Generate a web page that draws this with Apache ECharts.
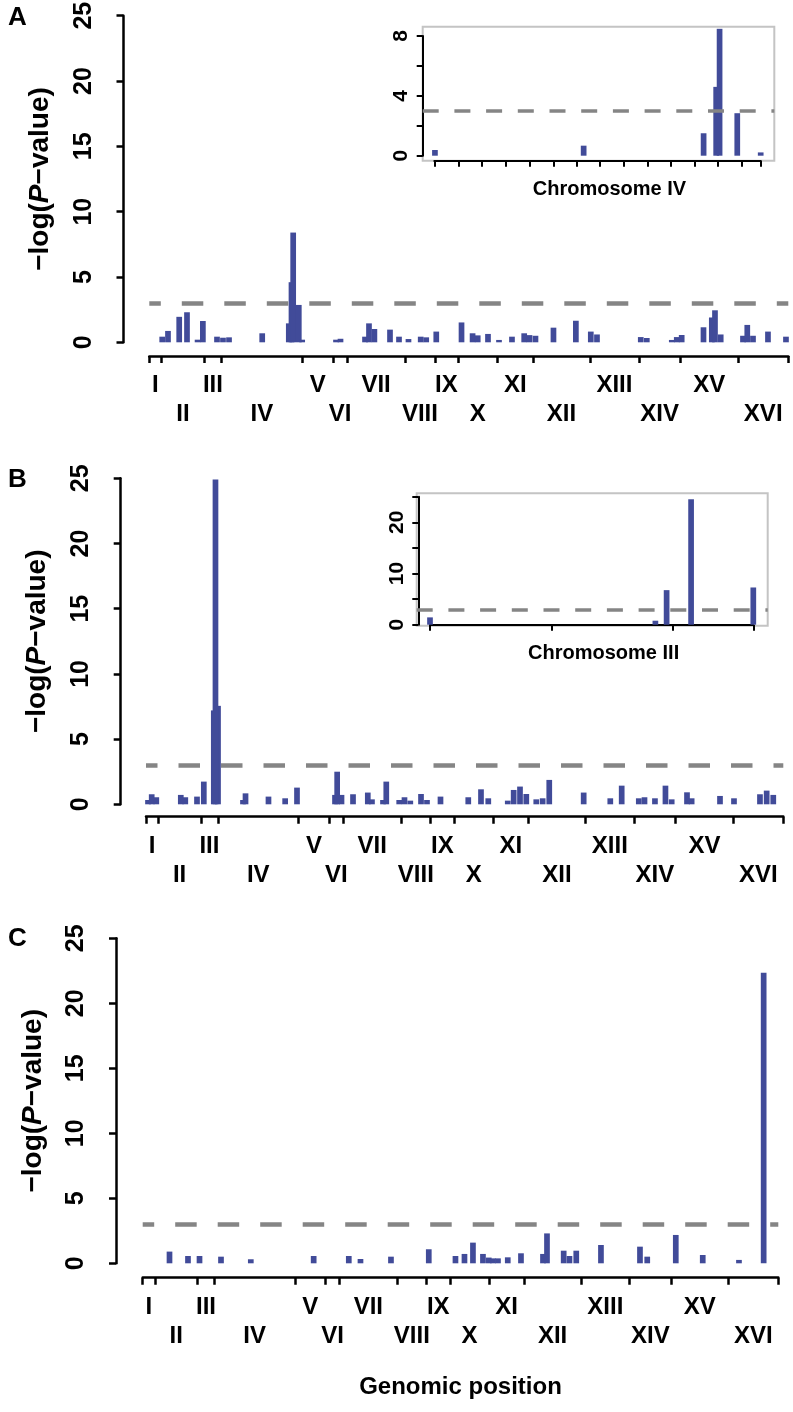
<!DOCTYPE html>
<html><head><meta charset="utf-8">
<script src="https://cdn.jsdelivr.net/npm/echarts@6/dist/echarts.min.js"></script>
<style>html,body{margin:0;padding:0;background:#fff}#chart{width:793px;height:1412px}</style>
</head><body><div id="chart"></div>
<script>
// ---------------- DATA ----------------
const chromNames = ['I','II','III','IV','V','VI','VII','VIII','IX','X','XI','XII','XIII','XIV','XV','XVI'];
const chromLengthsKb = [230, 813, 317, 1532, 577, 270, 1091, 563, 440, 746, 667, 1078, 924, 784, 1091, 948];
const threshold = 3;
const mainYMax = 25;

// Panel A : genomic position (kb, cumulative) and -log(P)
const posA = [244,353,565,712,912,1012,1279,1392,1506,2133,2635,2686,2718,2824,2888,3527,3612,4075,4150,4252,4547,4717,4896,5127,5231,5421,5898,6107,6204,6398,6606,6851,7082,7182,7295,7635,8058,8340,8457,9284,9398,9870,9964,10057,10469,10626,10686,10794,11215,11296,11404,11687,12027];
const valA = [0.43,0.87,1.95,2.3,0.2,1.63,0.43,0.35,0.38,0.69,1.45,4.6,8.4,2.86,0.2,0.2,0.27,0.43,1.45,1.02,0.97,0.43,0.25,0.43,0.38,0.82,1.52,0.69,0.53,0.64,0.18,0.43,0.69,0.55,0.5,1.12,1.65,0.82,0.6,0.4,0.33,0.18,0.4,0.56,1.15,1.9,2.45,0.6,0.5,1.33,0.5,0.82,0.43];

// Panel B
const posB = [38,108,195,659,744,966,1095,1284,1364,1316,1837,1885,2320,2636,2860,3580,3621,3703,3921,4201,4280,4489,4551,4796,4896,5006,5209,5322,5578,6104,6345,6483,6852,6964,7084,7203,7392,7513,7638,8290,8794,9010,9334,9442,9640,9839,9957,10247,10335,10872,11137,11629,11756,11881];
const valB = [0.33,0.77,0.54,0.72,0.54,0.59,1.74,7.2,7.55,24.9,0.33,0.84,0.59,0.46,1.28,0.72,2.5,0.72,0.77,0.9,0.38,0.33,1.74,0.33,0.54,0.28,0.79,0.33,0.59,0.54,1.15,0.46,0.28,1.1,1.36,0.79,0.38,0.46,1.87,0.9,0.46,1.43,0.46,0.54,0.46,1.43,0.38,0.92,0.46,0.64,0.46,0.77,1.05,0.72];

// Panel C
const posC = [509,860,1079,1487,2053,3247,3914,4136,4715,5433,5940,6111,6272,6462,6572,6652,6747,6933,7184,7602,7678,7995,8105,8234,8703,9444,9582,10124,10636,11324,11793];
const valC = [0.9,0.56,0.56,0.51,0.31,0.56,0.56,0.33,0.51,1.08,0.56,0.72,1.59,0.72,0.44,0.38,0.38,0.46,0.77,0.72,2.3,0.97,0.56,0.97,1.41,1.28,0.51,2.18,0.64,0.26,22.35];

// Inset A : chromosome IV (kb within chromosome)
const insetAPos = [3,701,1264,1323,1339,1422,1532];
const insetAVal = [0.38,0.67,1.5,4.6,8.48,2.84,0.22];
const insetATicks = [0,113,222,335,446,559,668,778,888,1001,1112,1222,1331,1441,1532];
const insetAYMax = 8;

// Inset B : chromosome III
const insetBPos = [0,221,232,256,317];
const insetBVal = [1.43,0.78,6.75,24.5,7.27];
const insetBTicks = [0,119,238,317];
const insetBYMax = 25;

// ---------------- STYLE / LAYOUT ----------------
const FONT = '"Liberation Sans", Arial, Helvetica, sans-serif';
const BAR = '#414b99';
const DASH = '#858585';

const chromStarts = [];
let acc = 0;
chromLengthsKb.forEach(l => { chromStarts.push(acc); acc += l; });
const genomeLen = acc;
const boundaries = [0].concat(chromStarts.map((s, i) => s + chromLengthsKb[i]));
const centers = chromStarts.map((s, i) => s + chromLengthsKb[i] / 2);

const grids = [], xAxes = [], yAxes = [], series = [];
function addGrid(g) {
  grids.push(Object.assign({ containLabel: false, outerBoundsMode: 'none' }, g));
  return grids.length - 1;
}
function pairs(p, v) { return p.map((x, i) => [x, v[i]]); }
const txt = (size) => ({ fontSize: size, fontWeight: 'bold', fontFamily: FONT, color: '#000' });

function mainPanel(L, pos, val, xName) {
  const gi = addGrid({ left: L.left, top: L.top, width: L.width, height: L.height });
  xAxes.push({
    type: 'value', gridIndex: gi, min: 0, max: genomeLen, offset: L.xOff,
    axisLine: { show: true, onZero: false, lineStyle: { color: '#000', width: 2.5 } },
    axisTick: { show: true, customValues: boundaries, length: 7, lineStyle: { color: '#000', width: 2.5 } },
    axisLabel: Object.assign(txt(24), {
      show: true, customValues: centers, margin: 15, lineHeight: 29,
      formatter: v => {
        const i = centers.findIndex(c => Math.abs(c - v) < 0.01);
        if (i < 0) return '';
        return i % 2 === 0 ? chromNames[i] : '\n' + chromNames[i];
      }
    }),
    splitLine: { show: false },
    name: xName || '', nameLocation: 'middle', nameGap: 98, nameTextStyle: txt(24)
  });
  const xi = xAxes.length - 1;
  yAxes.push({
    type: 'value', gridIndex: gi, min: 0, max: mainYMax, interval: 5, offset: L.yOff,
    axisLine: { show: true, onZero: false, lineStyle: { color: '#000', width: 2.5 } },
    axisTick: { show: true, length: 7, lineStyle: { color: '#000', width: 2.5 } },
    axisLabel: Object.assign(txt(25), { rotate: 90, margin: 27 }),
    splitLine: { show: false },
    name: '−log({i|P}−value)', nameLocation: 'middle', nameRotate: 90, nameGap: 69,
    nameTextStyle: Object.assign(txt(28), { rich: { i: Object.assign(txt(28), { fontStyle: 'italic' }) } })
  });
  const yi = yAxes.length - 1;
  series.push({
    type: 'line', xAxisIndex: xi, yAxisIndex: yi, data: [], z: 1, silent: true,
    markLine: { silent: true, symbol: 'none', label: { show: false },
      lineStyle: { type: [21.5, 21], dashOffset: 10, color: DASH, width: 4.5, cap: 'butt' },
      data: [{ yAxis: threshold }] }
  });
  series.push({
    type: 'bar', xAxisIndex: xi, yAxisIndex: yi, data: pairs(pos, val), barWidth: 5.7,
    z: 3, clip: false, silent: true, itemStyle: { color: BAR }
  });
}

function insetPanel(B, D, pos, val, ticks, xMax, yMax, yInterval, labelEvery, name) {
  const bi = addGrid({ left: B.left, top: B.top, width: B.width, height: B.height, show: true,
    borderColor: '#c4c4c4', borderWidth: 2, backgroundColor: 'rgba(0,0,0,0)' });
  xAxes.push({ type: 'value', gridIndex: bi, min: 0, max: 1, show: false });
  yAxes.push({ type: 'value', gridIndex: bi, min: B.yMin, max: B.yMax, show: false });
  series.push({
    type: 'line', xAxisIndex: xAxes.length - 1, yAxisIndex: yAxes.length - 1, data: [], z: 1, silent: true,
    markLine: { silent: true, symbol: 'none', label: { show: false },
      lineStyle: { type: [16, 15.7], dashOffset: 0, color: DASH, width: 3.5, cap: 'butt' },
      data: [{ yAxis: threshold }] }
  });
  const gi = addGrid({ left: D.left, top: D.top, width: D.width, height: D.height });
  xAxes.push({
    type: 'value', gridIndex: gi, min: 0, max: xMax, offset: D.xOff,
    axisLine: { show: true, onZero: false, lineStyle: { color: '#000', width: 2 } },
    axisTick: { show: true, customValues: ticks, length: 6, lineStyle: { color: '#000', width: 2 } },
    axisLabel: { show: false },
    splitLine: { show: false },
    name: name, nameLocation: 'middle', nameGap: 19,
    nameTextStyle: Object.assign(txt(20), { padding: [0, 0, 0, 24] })
  });
  const xi = xAxes.length - 1;
  yAxes.push({
    type: 'value', gridIndex: gi, min: 0, max: yMax, interval: yInterval, offset: D.yOff,
    axisLine: { show: true, onZero: false, lineStyle: { color: '#000', width: 2 } },
    axisTick: { show: true, length: 6, lineStyle: { color: '#000', width: 2 } },
    axisLabel: Object.assign(txt(21), { rotate: 90, margin: 11,
      formatter: v => (Math.abs(v % labelEvery) < 1e-9 ? String(v) : '') }),
    splitLine: { show: false }
  });
  const yi = yAxes.length - 1;
  series.push({
    type: 'bar', xAxisIndex: xi, yAxisIndex: yi, data: pairs(pos, val), barWidth: 5.7,
    z: 3, clip: false, silent: true, itemStyle: { color: BAR }
  });
}

mainPanel({ left: 149.3, width: 639, top: 15.7, height: 326.6, yOff: 25.8, xOff: 13.7 }, posA, valA, '');
insetPanel({ left: 422.7, top: 26.7, width: 351.6, height: 134, yMin: -0.334, yMax: 8.62 },
           { left: 434.3, top: 36, width: 326.4, height: 119.7, xOff: 5, yOff: 11.6 },
           insetAPos, insetAVal, insetATicks, chromLengthsKb[3], insetAYMax, 2, 4, 'Chromosome IV');
mainPanel({ left: 146, width: 637.3, top: 478.3, height: 326, yOff: 25.3, xOff: 12.4 }, posB, valB, '');
insetPanel({ left: 416.7, top: 493.3, width: 351, height: 132.4, yMin: -0.2, yMax: 25.66 },
           { left: 430, top: 496.7, width: 323.3, height: 128, xOff: 0, yOff: 11.7 },
           insetBPos, insetBVal, insetBTicks, chromLengthsKb[2], insetBYMax, 5, 10, 'Chromosome III');
mainPanel({ left: 142.7, width: 635.6, top: 938.3, height: 325, yOff: 26.7, xOff: 14.4 }, posC, valC, 'Genomic position');

const chart = echarts.init(document.getElementById('chart'), null, { renderer: 'canvas' });
chart.setOption({
  animation: false,
  backgroundColor: '#fff',
  title: [
    { text: 'A', left: 3, top: 0, textStyle: txt(26) },
    { text: 'B', left: 3, top: 462, textStyle: txt(26) },
    { text: 'C', left: 3, top: 921, textStyle: txt(26) }
  ],
  grid: grids,
  xAxis: xAxes,
  yAxis: yAxes,
  series: series
});
</script>
</body></html>
